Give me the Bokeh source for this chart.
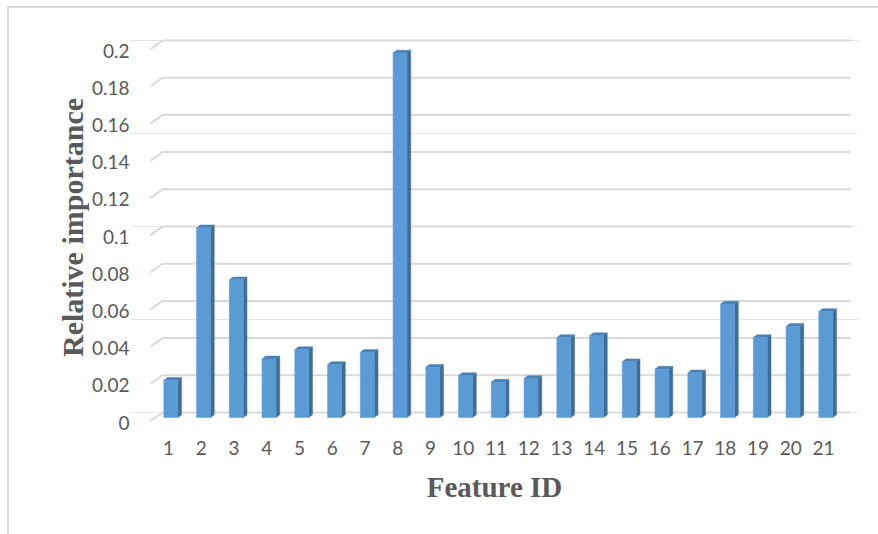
from bokeh.plotting import figure
from bokeh.models import Range1d, LinearAxis, FixedTicker, InlineStyleSheet
from bokeh.embed import file_html
from bokeh.resources import INLINE

# ---- data -------------------------------------------------------------
feature_ids = [1, 2, 3, 4, 5, 6, 7, 8, 9, 10, 11, 12, 13, 14, 15, 16, 17, 18, 19, 20, 21]
importance = [0.020, 0.102, 0.074, 0.0315, 0.0365, 0.0285, 0.035, 0.196, 0.027,
              0.0225, 0.019, 0.021, 0.043, 0.044, 0.030, 0.026, 0.024, 0.061,
              0.043, 0.049, 0.057]
y_ticks = [0, 0.02, 0.04, 0.06, 0.08, 0.1, 0.12, 0.14, 0.16, 0.18, 0.2]
y_tick_labels = ["0", "0.02", "0.04", "0.06", "0.08", "0.1", "0.12", "0.14", "0.16", "0.18", "0.2"]
x_title = "Feature ID"
y_title = "Relative importance"

# ---- canvas geometry (pixels) ----------------------------------------
W, H = 878, 534
F_LEFT, F_RIGHT, F_TOP, F_BOTTOM = 130, 858, 30, 424
X0_PX, X_STEP = 168.0, 32.75      # pixel of category 1, pixels per category
Y0_PX, Y_SCALE = 412.0, 1860.0     # pixel of value 0 on the back wall, pixels per unit

def xd(px):
    return 1 + (px - X0_PX) / X_STEP

def dxd(px):
    return px / X_STEP

def yd(px):
    return (Y0_PX - px) / Y_SCALE

def dyd(px):
    return px / Y_SCALE

p = figure(width=W, height=H,
           x_range=Range1d(xd(F_LEFT), xd(F_RIGHT)),
           y_range=Range1d(yd(F_BOTTOM), yd(F_TOP)),
           y_axis_location=None,
           min_border_left=F_LEFT, min_border_right=W - F_RIGHT,
           min_border_top=F_TOP, min_border_bottom=H - F_BOTTOM,
           toolbar_location=None, output_backend="svg",
           background_fill_color="white", border_fill_color="white")
p.outline_line_color = None
p.xgrid.visible = False

# value axis sits on the front plane, a few pixels below the back wall
LABEL_SHIFT = 10
p.extra_y_ranges = {"front": Range1d(yd(F_BOTTOM) + dyd(LABEL_SHIFT), yd(F_TOP) + dyd(LABEL_SHIFT))}
yaxis = LinearAxis(y_range_name="front", ticker=FixedTicker(ticks=y_ticks))
yaxis.major_label_overrides = {t: s for t, s in zip(y_ticks, y_tick_labels)}
yaxis.axis_line_color = None
yaxis.major_tick_line_color = None
yaxis.minor_tick_line_color = None
yaxis.major_tick_in = 0
yaxis.major_tick_out = 0
yaxis.major_label_standoff = 1
yaxis.major_label_text_font = "Lato"
yaxis.major_label_text_font_size = "19px"
yaxis.major_label_text_color = "#595959"
yaxis.axis_label = y_title
yaxis.axis_label_text_font = "Liberation Serif"
yaxis.axis_label_text_font_style = "bold"
yaxis.axis_label_text_font_size = "30px"
yaxis.axis_label_text_color = "#595959"
yaxis.axis_label_standoff = 0
p.add_layout(yaxis, "left")

xaxis = p.xaxis[0]
xaxis.ticker = FixedTicker(ticks=feature_ids)
xaxis.axis_line_color = None
xaxis.major_tick_line_color = None
xaxis.minor_tick_line_color = None
xaxis.major_tick_in = 0
xaxis.major_tick_out = 0
xaxis.major_label_standoff = 16
xaxis.major_label_text_font = "Lato"
xaxis.major_label_text_font_size = "19px"
xaxis.major_label_text_color = "#595959"
xaxis.axis_label = x_title
xaxis.axis_label_text_font = "Liberation Serif"
xaxis.axis_label_text_font_style = "bold"
xaxis.axis_label_text_font_size = "29px"
xaxis.axis_label_text_color = "#595959"
xaxis.axis_label_standoff = 13

# ---- back wall gridlines with their short slanted side-wall stubs --------
wall_left, wall_right = xd(162), xd(850)
stub_left = xd(150)
p.segment(x0=[wall_left] * len(y_ticks), x1=[wall_right] * len(y_ticks),
          y0=y_ticks, y1=y_ticks, line_color="#d9d9d9", line_width=2)
p.segment(x0=[stub_left] * len(y_ticks), x1=[wall_left] * len(y_ticks),
          y0=[t - dyd(8.6) for t in y_ticks], y1=y_ticks,
          line_color="#d9d9d9", line_width=2)

# ---- 3-D columns -----------------------------------------------------
base = -dyd(5)          # columns stand slightly in front of the back wall
shift = dxd(2.3)
half = dxd(7)
depth_x, depth_y = dxd(3.7), dyd(2.8)

lefts = [f + shift - half for f in feature_ids]
rights = [f + shift + half for f in feature_ids]
tops = [base + v for v in importance]

side_xs = [[r, r + depth_x, r + depth_x, r] for r in rights]
side_ys = [[base, base + depth_y, t + depth_y, t] for t in tops]
top_xs = [[l, r, r + depth_x, l + depth_x] for l, r in zip(lefts, rights)]
top_ys = [[t, t, t + depth_y, t + depth_y] for t in tops]

p.patches(xs=side_xs, ys=side_ys, fill_color="#3f6d97", line_color="#3f6d97", line_width=0.5)
p.patches(xs=top_xs, ys=top_ys, fill_color="#4a80b6", line_color="#4a80b6", line_width=0.5)
p.quad(left=lefts, right=rights, bottom=[base] * len(tops), top=tops,
       fill_color="#5b9bd5", line_color="#5b9bd5", line_width=0.5)

# ---- chart area border: top and left edges of the chart box ------------
p.stylesheets = [InlineStyleSheet(css="""
:host { position: relative; }
:host::after {
  content: "";
  position: absolute;
  left: 7px; top: 6px; right: 0; bottom: 0;
  border-top: 2px solid #d9d9d9;
  border-left: 2px solid #d9d9d9;
  pointer-events: none;
  z-index: 10;
}
""")]

open("out.html", "w").write(file_html(p, INLINE))
